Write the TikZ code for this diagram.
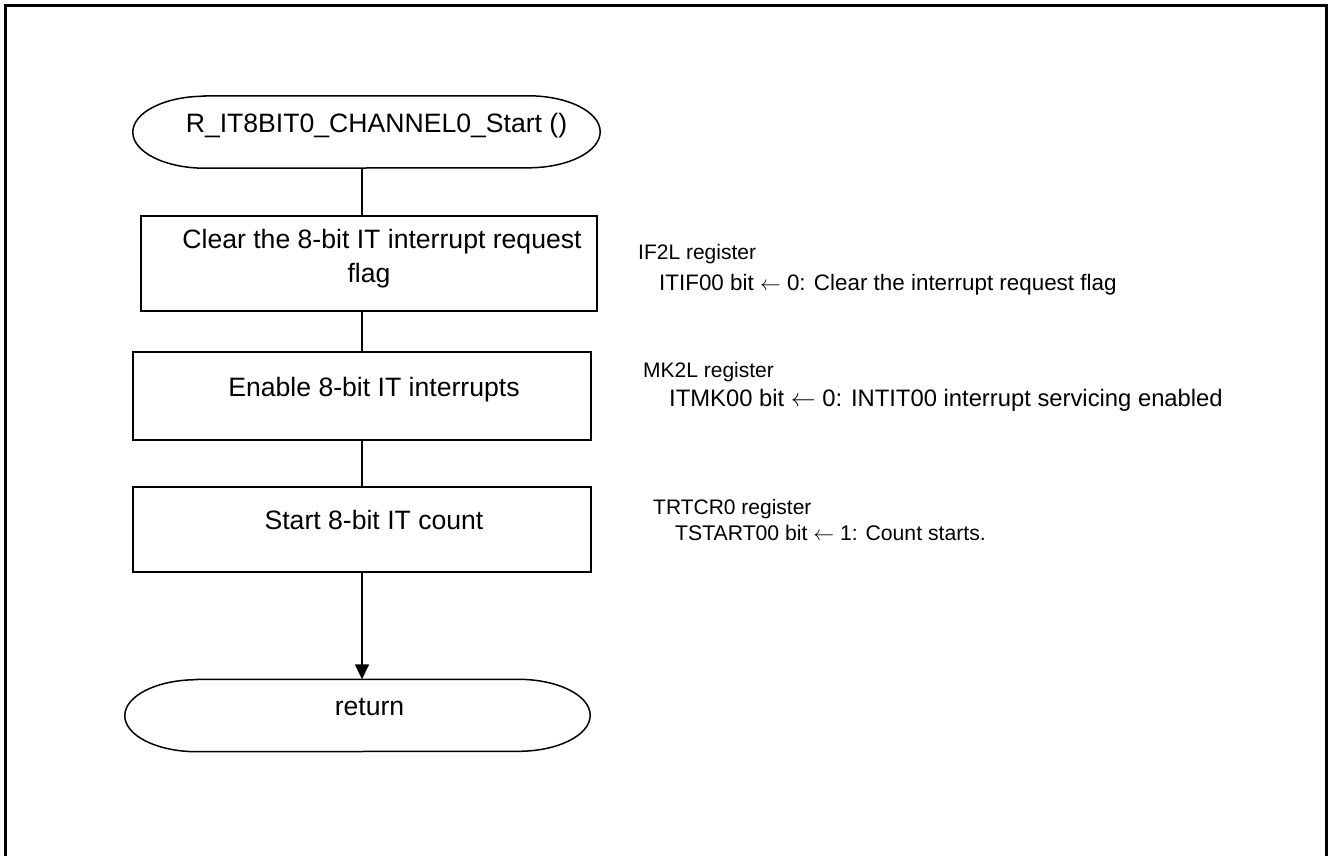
\documentclass[tikz,border=0pt]{standalone}
\usepackage{fontspec}
\setmainfont{Liberation Sans}
\usetikzlibrary{arrows.meta}
\tikzset{>={Triangle[length=15pt,width=14pt]}}
\tikzset{flow/.style={line width=1.5pt}}
\tikzset{proc/.style={draw, line width=1.5pt, inner sep=0pt, minimum width=458pt,
  font=\fontsize{26.6}{34}\selectfont, text height=10pt, text depth=10pt}}
\tikzset{term/.style={inner sep=0pt, minimum height=72pt,
  font=\fontsize{26.6}{34}\selectfont, text height=10pt, text depth=10pt}}
\tikzset{reg/.style={anchor=base west, inner sep=0pt, font=\fontsize{21}{25}\selectfont}}
\tikzset{regbit/.style={anchor=base west, inner sep=0pt, font=\fontsize{#1}{27}\selectfont},
  regbit/.default=22.4}
\newcommand{\setto}{$\leftarrow$}
\begin{document}
\begin{tikzpicture}[x=1pt,y=-1pt]
\useasboundingbox (0,0) rectangle (1328,856);
\draw[line width=3pt] (5.5,856) -- (5.5,6) -- (1326.5,6) -- (1326.5,856);

\node[term, minimum width=467pt] (start) at (366.5,132) {\hspace*{20pt}R\_IT8BIT0\_CHANNEL0\_Start ()};
\node[proc, minimum width=456pt, minimum height=95pt, align=center,
  text height=44pt, text depth=7pt] (box1) at (369,263.5)
  {\hspace*{26pt}Clear the 8-bit IT interrupt request\\flag};
\node[proc, minimum height=88pt] (box2) at (362,396) {\hspace*{24pt}Enable 8-bit IT interrupts};
\node[proc, minimum height=85pt] (box3) at (362,529.5) {\hspace*{24pt}Start 8-bit IT count};
\node[term, minimum width=465pt] (ret) at (357.5,715.5) {\hspace*{24pt}return};

% terminal outlines
\foreach \t in {start,ret} {
  \draw[flow] ([xshift=72pt]\t.north west) -- ([xshift=-72pt]\t.north east)
    arc[start angle=90, end angle=-90, x radius=72pt, y radius=36pt]
    -- ([xshift=72pt]\t.south west)
    arc[start angle=270, end angle=90, x radius=72pt, y radius=36pt] -- cycle;
}

\coordinate (axis) at (362,0);
\draw[flow] (start.south -| axis) -- (box1.north -| axis);
\draw[flow] (box1.south -| axis) -- (box2.north -| axis);
\draw[flow] (box2.south -| axis) -- (box3.north -| axis);
\draw[flow,->] (box3.south -| axis) -- (ret.north -| axis);

\node[reg] (if2l) at (638,259) {IF2L register};
\node[regbit] (itif) at (659,290) {ITIF00 bit \setto{} 0: Clear the interrupt request flag};
\node[reg] (mk2l) at (643,377) {MK2L register};
\node[regbit=23.8] (itmk) at (669,406) {ITMK00 bit \setto{} 0: INTIT00 interrupt servicing enabled};
\node[reg] (trtcr) at (653,514) {TRTCR0 register};
\node[regbit=21.2] (tstart) at (675,540) {TSTART00 bit \setto{} 1: Count starts.};
\end{tikzpicture}
\end{document}
